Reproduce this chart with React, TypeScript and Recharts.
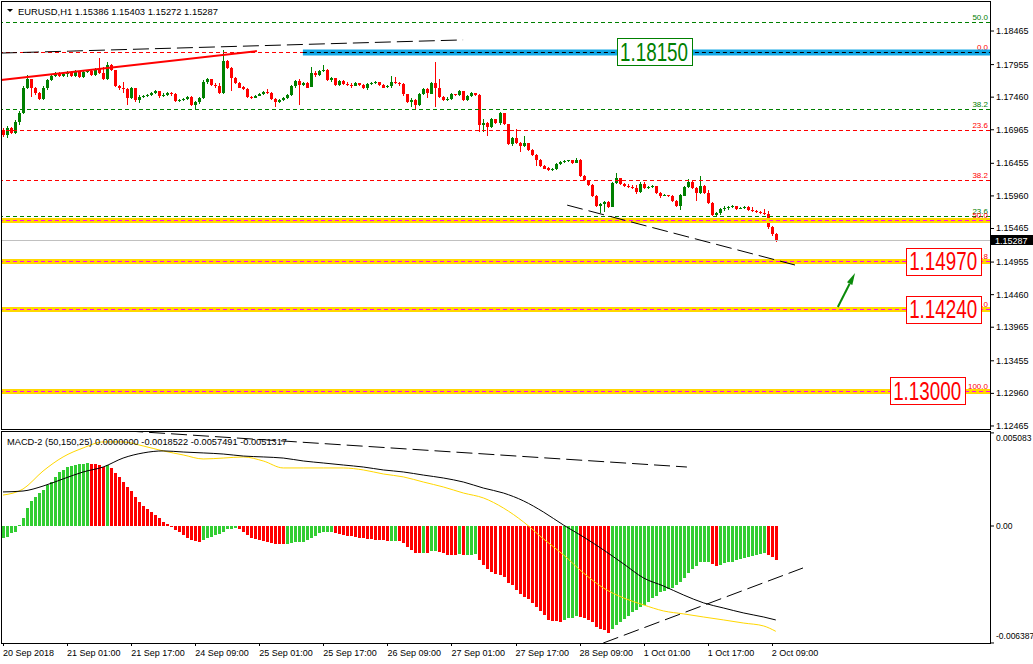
import React from 'react';
import { ComposedChart, Bar, Line, XAxis, YAxis, ReferenceLine, ReferenceDot, Cell } from 'recharts';

const FONT = '"Liberation Sans", Arial, sans-serif';
const BULL = '#008000';
const BEAR = '#ff0000';
const SLOTS = 247; // bars that fit across the plot, incl. the empty right side

// EURUSD H1 from 20 Sep 09:00, open of a bar = close of the previous one
const firstOpen = 1.1696;
const closes = [
  1.1689, 1.1699, 1.1692, 1.1708, 1.1722, 1.1760, 1.1774, 1.1760, 1.1752, 1.1743,
  1.1760, 1.1772, 1.1778, 1.1783, 1.1778, 1.1781, 1.1784, 1.1778, 1.1786, 1.1777,
  1.1784, 1.1786, 1.1780, 1.1789, 1.1783, 1.1774, 1.1795, 1.1787, 1.1763, 1.1760,
  1.1758, 1.1745, 1.1760, 1.1742, 1.1746, 1.1748, 1.1749, 1.1752, 1.1755, 1.1748,
  1.1749, 1.1752, 1.1751, 1.1740, 1.1742, 1.1743, 1.1746, 1.1734, 1.1739, 1.1745,
  1.1769, 1.1774, 1.1765, 1.1763, 1.1752, 1.1801, 1.1790, 1.1775, 1.1768, 1.1761,
  1.1758, 1.1746, 1.1745, 1.1748, 1.1751, 1.1754, 1.1752, 1.1743, 1.1739, 1.1742,
  1.1745, 1.1749, 1.1763, 1.1771, 1.1765, 1.1768, 1.1761, 1.1783, 1.1780, 1.1786,
  1.1787, 1.1772, 1.1775, 1.1765, 1.1771, 1.1766, 1.1765, 1.1763, 1.1768, 1.1765,
  1.1760, 1.1766, 1.1768, 1.1769, 1.1765, 1.1761, 1.1763, 1.1769, 1.1768, 1.1766,
  1.1751, 1.1739, 1.1742, 1.1734, 1.1751, 1.1758, 1.1752, 1.1768, 1.1760, 1.1746,
  1.1742, 1.1743, 1.1751, 1.1749, 1.1755, 1.1742, 1.1748, 1.1752, 1.1749, 1.1704,
  1.1707, 1.1701, 1.1713, 1.1707, 1.1722, 1.1705, 1.1675, 1.1684, 1.1676, 1.1672,
  1.1676, 1.1666, 1.1658, 1.1651, 1.1642, 1.1638, 1.1635, 1.1637, 1.1645, 1.1648,
  1.1649, 1.1650, 1.1646, 1.1651, 1.1626, 1.1620, 1.1613, 1.1596, 1.1581, 1.1584,
  1.1587, 1.1579, 1.1616, 1.1623, 1.1614, 1.1611, 1.1610, 1.1608, 1.1602, 1.1614,
  1.1608, 1.1610, 1.1611, 1.1600, 1.1596, 1.1597, 1.1596, 1.1588, 1.1581, 1.1597,
  1.1610, 1.1617, 1.1608, 1.1600, 1.1611, 1.1600, 1.1585, 1.1567, 1.1570, 1.1576,
  1.1578, 1.1579, 1.1581, 1.1576, 1.1578, 1.1579, 1.1575, 1.1573, 1.1572, 1.1570,
  1.1568, 1.1549, 1.15386, 1.15287,
];
const highs = [
  1.1699, 1.1702, 1.1701, 1.1711, 1.1725, 1.1763, 1.1780, 1.1774, 1.1761, 1.1754,
  1.1763, 1.1774, 1.1780, 1.1784, 1.1784, 1.1783, 1.1786, 1.1786, 1.1787, 1.1786,
  1.1786, 1.1787, 1.1787, 1.1790, 1.1806, 1.1792, 1.1799, 1.1796, 1.1787, 1.1765,
  1.1769, 1.1760, 1.1761, 1.1760, 1.1749, 1.1749, 1.1751, 1.1754, 1.1757, 1.1752,
  1.1752, 1.1754, 1.1754, 1.1752, 1.1743, 1.1745, 1.1748, 1.1748, 1.1740, 1.1746,
  1.1772, 1.1775, 1.1774, 1.1768, 1.1768, 1.1818, 1.1802, 1.1792, 1.1777, 1.1769,
  1.1763, 1.1760, 1.1748, 1.1749, 1.1752, 1.1755, 1.1758, 1.1754, 1.1745, 1.1743,
  1.1746, 1.1751, 1.1765, 1.1772, 1.1774, 1.1769, 1.1769, 1.1792, 1.1786, 1.1787,
  1.1795, 1.1789, 1.1777, 1.1775, 1.1772, 1.1772, 1.1769, 1.1768, 1.1769, 1.1768,
  1.1766, 1.1768, 1.1769, 1.1771, 1.1769, 1.1766, 1.1765, 1.1778, 1.1777, 1.1769,
  1.1768, 1.1751, 1.1745, 1.1743, 1.1752, 1.1760, 1.1760, 1.1769, 1.1799, 1.1774,
  1.1748, 1.1746, 1.1752, 1.1751, 1.1757, 1.1755, 1.1749, 1.1754, 1.1752, 1.1751,
  1.1713, 1.1708, 1.1714, 1.1713, 1.1724, 1.1722, 1.1705, 1.1686, 1.1698, 1.1678,
  1.1687, 1.1676, 1.1667, 1.1660, 1.1652, 1.1643, 1.1640, 1.1638, 1.1646, 1.1649,
  1.1651, 1.1651, 1.1651, 1.1654, 1.1652, 1.1628, 1.1620, 1.1614, 1.1597, 1.1585,
  1.1588, 1.1588, 1.1617, 1.1631, 1.1623, 1.1616, 1.1614, 1.1613, 1.1613, 1.1617,
  1.1617, 1.1611, 1.1613, 1.1611, 1.1602, 1.1599, 1.1597, 1.1597, 1.1590, 1.1599,
  1.1611, 1.1622, 1.1619, 1.1610, 1.1626, 1.1613, 1.1605, 1.1587, 1.1572, 1.1578,
  1.1581, 1.1581, 1.1582, 1.1581, 1.1579, 1.1581, 1.1581, 1.1579, 1.1575, 1.1573,
  1.1576, 1.1573, 1.1550, 1.15403,
];
const lows = [
  1.1686, 1.1684, 1.1690, 1.1690, 1.1704, 1.1720, 1.1758, 1.1746, 1.1749, 1.1742,
  1.1742, 1.1758, 1.1771, 1.1777, 1.1777, 1.1777, 1.1777, 1.1777, 1.1777, 1.1775,
  1.1775, 1.1783, 1.1778, 1.1778, 1.1781, 1.1772, 1.1772, 1.1786, 1.1761, 1.1758,
  1.1752, 1.1734, 1.1743, 1.1739, 1.1737, 1.1745, 1.1746, 1.1748, 1.1751, 1.1745,
  1.1746, 1.1748, 1.1748, 1.1739, 1.1739, 1.1740, 1.1742, 1.1733, 1.1727, 1.1736,
  1.1743, 1.1766, 1.1763, 1.1761, 1.1751, 1.1751, 1.1789, 1.1755, 1.1766, 1.1760,
  1.1757, 1.1745, 1.1743, 1.1745, 1.1748, 1.1749, 1.1751, 1.1742, 1.1731, 1.1737,
  1.1740, 1.1743, 1.1748, 1.1760, 1.1734, 1.1763, 1.1760, 1.1761, 1.1777, 1.1778,
  1.1784, 1.1771, 1.1769, 1.1763, 1.1763, 1.1765, 1.1763, 1.1761, 1.1763, 1.1763,
  1.1758, 1.1758, 1.1765, 1.1766, 1.1763, 1.1760, 1.1761, 1.1760, 1.1766, 1.1763,
  1.1749, 1.1737, 1.1731, 1.1728, 1.1733, 1.1749, 1.1745, 1.1752, 1.1731, 1.1745,
  1.1740, 1.1740, 1.1742, 1.1748, 1.1748, 1.1740, 1.1740, 1.1746, 1.1748, 1.1693,
  1.1693, 1.1686, 1.1699, 1.1705, 1.1705, 1.1704, 1.1673, 1.1673, 1.1675, 1.1663,
  1.1670, 1.1664, 1.1657, 1.1642, 1.1640, 1.1637, 1.1634, 1.1634, 1.1635, 1.1643,
  1.1646, 1.1648, 1.1645, 1.1646, 1.1625, 1.1619, 1.1611, 1.1594, 1.1579, 1.1570,
  1.1572, 1.1578, 1.1579, 1.1614, 1.1613, 1.1610, 1.1608, 1.1607, 1.1600, 1.1600,
  1.1607, 1.1607, 1.1608, 1.1599, 1.1593, 1.1596, 1.1594, 1.1587, 1.1579, 1.1575,
  1.1596, 1.1608, 1.1607, 1.1588, 1.1599, 1.1599, 1.1584, 1.1565, 1.1565, 1.1567,
  1.1573, 1.1575, 1.1578, 1.1575, 1.1576, 1.1576, 1.1573, 1.1572, 1.1570, 1.1568,
  1.1567, 1.1546, 1.1535, 1.15272,
];

// MACD-2 (50,150,25) histogram, one value per bar
const histVals = [
  -0.00066, -0.0006, -0.00038, -0.00033, 0.00005, 0.00044, 0.00098, 0.00137, 0.00158, 0.0018,
  0.00197, 0.00224, 0.0024, 0.00268, 0.00295, 0.00306, 0.00322, 0.00328, 0.00333, 0.00339,
  0.00341, 0.00344, 0.00341, 0.00339, 0.00333, 0.00322, 0.00333, 0.00317, 0.00289, 0.00268,
  0.0024, 0.00213, 0.00191, 0.00158, 0.00131, 0.00109, 0.00093, 0.00076, 0.0006, 0.00044,
  0.00022, 0.00011, 0.00001, -0.00022, -0.00033, -0.00049, -0.00066, -0.00076, -0.00082, -0.00087,
  -0.00076, -0.00066, -0.0006, -0.00049, -0.00044, -0.00033, -0.00016, -0.00014, -0.00011, -0.00016,
  -0.00033, -0.00049, -0.00066, -0.00071, -0.00076, -0.00082, -0.00087, -0.00093, -0.00096, -0.00098,
  -0.001, -0.00098, -0.00093, -0.0009, -0.00087, -0.00085, -0.00076, -0.00066, -0.00055, -0.00038,
  -0.00035, -0.00034, -0.00033, -0.00038, -0.00044, -0.00049, -0.00052, -0.00055, -0.0006, -0.00066,
  -0.00068, -0.00071, -0.00073, -0.00074, -0.00075, -0.00076, -0.00082, -0.00081, -0.0008, -0.00082,
  -0.00093, -0.00115, -0.00131, -0.00147, -0.0015, -0.00147, -0.0015, -0.00137, -0.00134, -0.00142,
  -0.00147, -0.00156, -0.00158, -0.0016, -0.00153, -0.00158, -0.00157, -0.00156, -0.00155, -0.00186,
  -0.00213, -0.00235, -0.00251, -0.00262, -0.00268, -0.00278, -0.00311, -0.00322, -0.00349, -0.00371,
  -0.00388, -0.00399, -0.0042, -0.00442, -0.00464, -0.00486, -0.00513, -0.00519, -0.0052, -0.00522,
  -0.00513, -0.00502, -0.005, -0.00491, -0.00497, -0.00502, -0.00513, -0.00524, -0.00551, -0.00562,
  -0.00568, -0.00584, -0.00562, -0.00541, -0.00524, -0.00508, -0.00491, -0.0047, -0.00459, -0.00442,
  -0.00431, -0.00415, -0.00393, -0.00382, -0.0036, -0.00355, -0.00344, -0.00339, -0.00322, -0.00306,
  -0.00284, -0.00257, -0.00235, -0.00218, -0.00199, -0.00198, -0.00197, -0.00207, -0.00218, -0.00213,
  -0.00202, -0.00197, -0.00194, -0.00186, -0.0018, -0.00175, -0.00169, -0.00164, -0.00158, -0.00153,
  -0.00147, -0.00158, -0.00169, -0.00185,
];

// the two MACD lines, read every 5th bar
const lineIdx = [0, 5, 10, 15, 20, 25, 30, 35, 40, 45, 50, 55, 60, 65, 70, 75, 80, 85, 90, 95,
  100, 105, 110, 115, 120, 125, 130, 135, 140, 145, 150, 155, 160, 165, 170, 175, 180, 185, 190, 193];
const macdMain = [0.00186, 0.00191, 0.00218, 0.00257, 0.00295, 0.00322, 0.00371, 0.00399, 0.0041, 0.00404,
  0.00399, 0.00393, 0.00382, 0.00377, 0.00371, 0.00355, 0.00344, 0.00333, 0.00322, 0.00306,
  0.00295, 0.00278, 0.00262, 0.0024, 0.00207, 0.0018, 0.00137, 0.00076, 0.00005, -0.0006,
  -0.00131, -0.00207, -0.00284, -0.00328, -0.00377, -0.0042, -0.00448, -0.00475, -0.00497, -0.00513];
const macdSignal = [0.00169, 0.00202, 0.003, 0.00377, 0.00426, 0.00459, 0.00459, 0.00437, 0.0041, 0.00388,
  0.00366, 0.00371, 0.00377, 0.00355, 0.00317, 0.00317, 0.00317, 0.00317, 0.00306, 0.00284,
  0.00268, 0.0024, 0.00213, 0.0018, 0.00153, 0.00098, 0.00022, -0.00071, -0.00158, -0.00257,
  -0.00339, -0.00393, -0.00431, -0.00464, -0.0048, -0.00497, -0.00513, -0.0053, -0.00546, -0.00575];

const timeIdx = [0, 16, 32, 48, 64, 80, 96, 112, 128, 144, 160, 176, 192];
const timeLabels = ['20 Sep 2018', '21 Sep 01:00', '21 Sep 17:00', '24 Sep 09:00', '25 Sep 01:00',
  '25 Sep 17:00', '26 Sep 09:00', '27 Sep 01:00', '27 Sep 17:00', '28 Sep 09:00', '1 Oct 01:00',
  '1 Oct 17:00', '2 Oct 09:00'];

const priceTicks = [1.18465, 1.17955, 1.1746, 1.16965, 1.16455, 1.1596, 1.15465, 1.14955, 1.1446,
  1.13965, 1.13455, 1.1296, 1.12465];
const PRICE_DOMAIN = [1.12419, 1.18921];
const macdTicks = [0.005083, 0, -0.006387];
const MACD_DOMAIN = [-0.006388, 0.005187];
const lastPrice = 1.15287;

const fibLevels = [
  { price: 1.18602, label: '50.0', color: BULL },
  { price: 1.1815, label: '0.0', color: BEAR },
  { price: 1.1728, label: '38.2', color: BULL },
  { price: 1.16961, label: '23.6', color: BEAR },
  { price: 1.16202, label: '38.2', color: BEAR },
  { price: 1.15655, label: '23.6', color: BULL },
];
const targetLevels = [
  { price: 1.15594, label: '50.0' },
  { price: 1.1497, label: '61.8' },
  { price: 1.1424, label: '76.0' },
  { price: 1.13, label: '100.0' },
];
const zone = { from: 74.9, price: 1.1815 };
const priceTags = [
  { idx: 162.6, price: 1.1815, text: '1.18150', color: BULL },
  { idx: 234.8, price: 1.1497, text: '1.14970', color: BEAR },
  { idx: 234.8, price: 1.1424, text: '1.14240', color: BEAR },
  { idx: 230.8, price: 1.13, text: '1.13000', color: BEAR },
];
const trendLines = [
  { from: [-0.5, 1.1772], to: [63.4, 1.1816], color: BEAR, width: 2, dash: undefined },
  { from: [-0.5, 1.1813], to: [114.9, 1.1833], color: '#000', width: 1, dash: '16 6' },
  { from: [140.9, 1.1582], to: [197.8, 1.1491], color: '#000', width: 1, dash: '16 6' },
];
const arrow = { from: [208.5, 1.14272], to: [212.8, 1.14789] };
const macdTrends = [
  { from: [31, 0.00519], to: [170.8, 0.00322] },
  { from: [149.9, -0.00639], to: [199.8, -0.00229] },
];

const rows: any[] = Array.from({ length: SLOTS }, (_, i) => {
  const row: any = { i };
  if (i < closes.length) {
    const o = i === 0 ? firstOpen : closes[i - 1];
    const c = closes[i];
    row.open = o;
    row.close = c;
    row.high = Math.max(highs[i], o, c);
    row.low = Math.min(lows[i], o, c);
    row.range = [row.low, row.high];
    row.hist = histVals[i];
  }
  const k = lineIdx.indexOf(i);
  if (k >= 0) {
    row.macd = macdMain[k];
    row.signal = macdSignal[k];
  }
  return row;
});
const histUp = histVals.map((v, i) => i === 0 || v > histVals[i - 1]);

const crisp = (v: number) => Math.round(v) + 0.5;

function Candle(props: any) {
  const { x, y, width, height, payload } = props;
  if (!payload || payload.range == null) return null;
  const { open, close, high, low } = payload;
  const top = Math.min(y, y + height);
  const span = Math.abs(height);
  const k = high > low ? span / (high - low) : 0;
  const yO = top + (high - open) * k;
  const yC = top + (high - close) * k;
  const color = close >= open ? BULL : BEAR;
  const left = Math.round(x + width / 2 - 1.5);
  return (
    <g shapeRendering="crispEdges">
      <rect x={left + 1} y={Math.round(top)} width={1} height={Math.max(1, Math.round(span))} fill={color} />
      <rect x={left} y={Math.round(Math.min(yO, yC))} width={3}
        height={Math.max(1, Math.round(Math.abs(yC - yO)))} fill={color} />
    </g>
  );
}

function HistBar(props: any) {
  const { x, y, width, height, fill } = props;
  if (height == null || isNaN(height)) return null;
  const top = Math.round(Math.min(y, y + height));
  const h = Math.max(1, Math.round(Math.abs(height)));
  return <rect x={Math.round(x + width / 2 - 1.5)} y={top} width={3} height={h} fill={fill} shapeRendering="crispEdges" />;
}

function PriceTick({ x, y, payload }: any) {
  return (
    <text x={x} y={y} dy={3} fontSize={9} fontFamily={FONT} fill="#000" textAnchor="start">
      {payload.value.toFixed(5)}
    </text>
  );
}

function MacdTick({ x, y, payload }: any) {
  const v = payload.value;
  const dy = v > 0 ? 8 : v < 0 ? -4 : 3;
  return (
    <text x={x} y={y} dy={dy} fontSize={8.5} fontFamily={FONT} fill="#000" textAnchor="start">
      {v === 0 ? '0.00' : v.toFixed(6)}
    </text>
  );
}

function TimeTick({ x, y, payload }: any) {
  const k = timeIdx.indexOf(Number(payload.value));
  if (k < 0 || !isFinite(x) || !isFinite(y)) return null;
  return (
    <g>
      <line x1={crisp(x)} x2={crisp(x)} y1={y} y2={y + 3} stroke="#000" />
      <text x={x} y={y + 13} fontSize={9} fontFamily={FONT} fill="#000" textAnchor="start">{timeLabels[k]}</text>
    </g>
  );
}

const levelShape = (label: string, labelColor: string, lineColor: string, band: boolean) => (p: any) => {
  const yy = crisp(p.y1);
  const right = Math.max(p.x1, p.x2);
  return (
    <g>
      {band && <line x1={p.x1} x2={p.x2} y1={yy} y2={yy} stroke="#ffd700" strokeWidth={5} />}
      <line x1={p.x1} x2={p.x2} y1={yy} y2={yy} stroke={lineColor} strokeDasharray="4 3" />
      <text x={right - 2} y={yy - 3} textAnchor="end" fontSize={8} fontFamily={FONT} fill={labelColor}>{label}</text>
    </g>
  );
};

const zoneShape = (p: any) => {
  const yy = crisp(p.y1);
  return (
    <g>
      <line x1={p.x1} x2={p.x2} y1={yy} y2={yy} stroke="#12a7e6" strokeWidth={6} />
      <line x1={p.x1} x2={p.x2} y1={yy} y2={yy} stroke="#000" strokeDasharray="4 3" />
    </g>
  );
};

const lastShape = (p: any) => {
  const yy = crisp(p.y1);
  const right = Math.max(p.x1, p.x2);
  return (
    <g>
      <line x1={p.x1} x2={p.x2} y1={yy} y2={yy} stroke="#c0c0c0" />
      <rect x={right + 1} y={yy - 5.5} width={43} height={10} fill="#000" />
      <text x={right + 5} y={yy + 3.5} fontSize={9} fontFamily={FONT} fill="#fff">{lastPrice.toFixed(5)}</text>
    </g>
  );
};

const arrowShape = (p: any) => {
  const ang = Math.atan2(p.y2 - p.y1, p.x2 - p.x1);
  const L = 12;
  const W = 3;
  const bx = p.x2 - L * Math.cos(ang);
  const by = p.y2 - L * Math.sin(ang);
  const nx = -Math.sin(ang) * W;
  const ny = Math.cos(ang) * W;
  return (
    <g>
      <line x1={p.x1} y1={p.y1} x2={bx} y2={by} stroke="#0a8a0a" strokeWidth={2} />
      <polygon points={`${p.x2},${p.y2} ${bx + nx},${by + ny} ${bx - nx},${by - ny}`} fill="#0a8a0a" />
    </g>
  );
};

const tagShape = (text: string, color: string) => (p: any) => {
  const w = 75;
  const h = 27;
  return (
    <g>
      <rect x={crisp(p.cx - w / 2)} y={crisp(p.cy - h / 2)} width={w} height={h} fill="#fff" stroke={color} />
      <text x={p.cx} y={p.cy + 9} textAnchor="middle" fontSize={25} fontFamily={FONT} fill={color}
        textLength={w - 7} lengthAdjust="spacingAndGlyphs">{text}</text>
    </g>
  );
};

export default function App() {
  return (
    <div style={{ position: 'absolute', left: 0, top: 0, width: 1033, height: 664, background: '#fff', overflow: 'hidden' }}>
      <div style={{ position: 'absolute', left: 0, top: 0 }}>
        <ComposedChart width={1033} height={431} data={rows} margin={{ top: 1, right: 0, bottom: 2, left: 1 }}>
          <XAxis xAxisId="c" dataKey="i" type="category" hide />
          <XAxis xAxisId="n" dataKey="i" type="number" domain={[-0.5, SLOTS - 0.5]} allowDataOverflow hide />
          <YAxis orientation="right" width={43} type="number" domain={PRICE_DOMAIN} allowDataOverflow
            ticks={priceTicks} interval={0} tickSize={4} tickMargin={2} axisLine={false}
            tickLine={{ stroke: '#000' }} tick={<PriceTick />} />
          {fibLevels.map((f, k) => (
            <ReferenceLine key={'f' + k} xAxisId="n" y={f.price} shape={levelShape(f.label, f.color, f.color, false)} />
          ))}
          <ReferenceLine xAxisId="n" ifOverflow="visible"
            segment={[{ x: zone.from, y: zone.price }, { x: SLOTS - 0.5, y: zone.price }]} shape={zoneShape} />
          {targetLevels.map((t, k) => (
            <ReferenceLine key={'t' + k} xAxisId="n" y={t.price} shape={levelShape(t.label, BEAR, '#ff00ff', true)} />
          ))}
          <ReferenceLine xAxisId="n" y={lastPrice} shape={lastShape} />
          <Bar xAxisId="c" dataKey="range" barSize={3} shape={<Candle />} isAnimationActive={false} />
          {trendLines.map((t, k) => (
            <ReferenceLine key={'l' + k} xAxisId="n" ifOverflow="visible"
              segment={[{ x: t.from[0], y: t.from[1] }, { x: t.to[0], y: t.to[1] }]}
              stroke={t.color} strokeWidth={t.width} strokeDasharray={t.dash} />
          ))}
          <ReferenceLine xAxisId="n" ifOverflow="visible"
            segment={[{ x: arrow.from[0], y: arrow.from[1] }, { x: arrow.to[0], y: arrow.to[1] }]} shape={arrowShape} />
          {priceTags.map((t, k) => (
            <ReferenceDot key={'d' + k} xAxisId="n" x={t.idx} y={t.price} ifOverflow="visible" shape={tagShape(t.text, t.color)} />
          ))}
        </ComposedChart>
      </div>
      <div style={{ position: 'absolute', left: 0, top: 431 }}>
        <ComposedChart width={1033} height={233} data={rows} margin={{ top: 0, right: 0, bottom: 0, left: 1 }}>
          <XAxis xAxisId="c" dataKey="i" type="category" interval={15} height={21} tickSize={0} tickMargin={0}
            axisLine={false} tickLine={false} tick={<TimeTick />} />
          <XAxis xAxisId="n" dataKey="i" type="number" domain={[-0.5, SLOTS - 0.5]} allowDataOverflow hide />
          <YAxis orientation="right" width={43} type="number" domain={MACD_DOMAIN} allowDataOverflow
            ticks={macdTicks} interval={0} tickSize={4} tickMargin={2} axisLine={false}
            tickLine={{ stroke: '#000' }} tick={<MacdTick />} />
          <Bar xAxisId="c" dataKey="hist" barSize={3} shape={<HistBar />} isAnimationActive={false}>
            {rows.map((r, i) => (
              <Cell key={i} fill={histUp[i] ? '#32cd32' : '#ff0000'} />
            ))}
          </Bar>
          <Line xAxisId="n" dataKey="signal" type="monotone" stroke="#ffd700" strokeWidth={1} dot={false}
            connectNulls isAnimationActive={false} />
          <Line xAxisId="n" dataKey="macd" type="monotone" stroke="#000" strokeWidth={1} dot={false}
            connectNulls isAnimationActive={false} />
          {macdTrends.map((t, k) => (
            <ReferenceLine key={'m' + k} xAxisId="n" ifOverflow="visible"
              segment={[{ x: t.from[0], y: t.from[1] }, { x: t.to[0], y: t.to[1] }]}
              stroke="#000" strokeDasharray="16 6" />
          ))}
        </ComposedChart>
      </div>
      <svg width={1033} height={664} style={{ position: 'absolute', left: 0, top: 0, pointerEvents: 'none' }}>
        <rect x={1.5} y={1.5} width={989} height={428} fill="none" stroke="#000" />
        <rect x={1.5} y={431.5} width={989} height={212} fill="none" stroke="#000" />
        <path d="M7 9 L13 9 L10 12 Z" fill="#000" />
        <text x={18} y={15} fontSize={9} fontFamily={FONT} fill="#000" textLength={200} lengthAdjust="spacingAndGlyphs">
          EURUSD,H1  1.15386 1.15403 1.15272 1.15287
        </text>
        <text x={7} y={445} fontSize={9} fontFamily={FONT} fill="#000" textLength={280} lengthAdjust="spacingAndGlyphs">
          MACD-2 (50,150,25) 0.0000000 -0.0018522 -0.0057491 -0.0051317
        </text>
      </svg>
    </div>
  );
}
